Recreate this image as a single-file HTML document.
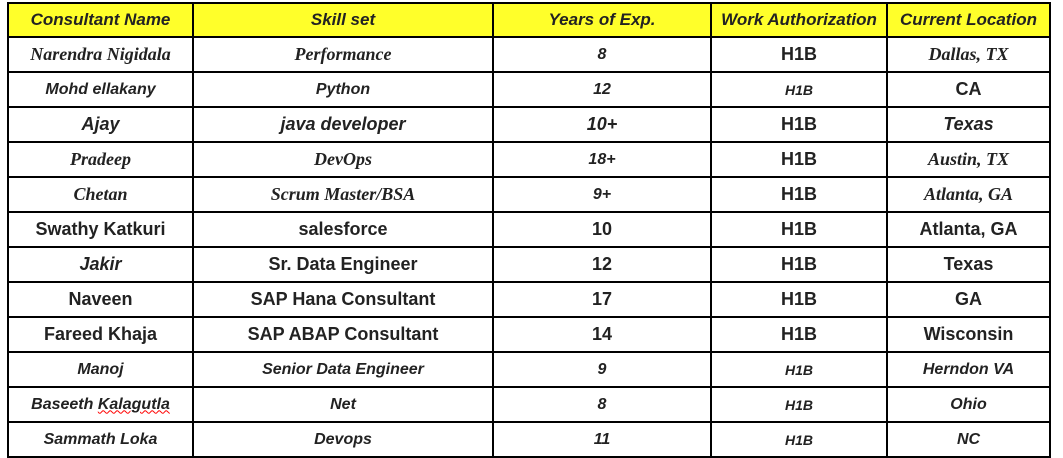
<!DOCTYPE html>
<html><head><meta charset="utf-8"><style>
body{margin:0;width:1063px;height:458px;background:#fff;overflow:hidden}
table{position:absolute;left:7px;top:2px;border-collapse:collapse;table-layout:fixed;color:#222}
td{border:2px solid #000;text-align:center;padding:0;height:33px;white-space:nowrap;overflow:hidden}
tr:first-child td{background:#ffff2a;height:32px}
.h{font:italic bold 17px "Liberation Sans",sans-serif}
.c{font:italic bold 16px "Liberation Sans",sans-serif}
.s{font:italic bold 18px "Liberation Serif",serif}
.a{font:bold 18px "Liberation Sans",sans-serif}
.ai{font:italic bold 18px "Liberation Sans",sans-serif}
.as{font:italic bold 14px "Liberation Sans",sans-serif}
.u{text-decoration:underline wavy red;text-decoration-thickness:1px}
</style></head><body>
<table>
<colgroup><col style="width:185px"><col style="width:300px"><col style="width:218px"><col style="width:176px"><col style="width:163px"></colgroup>
<tr><td class="h">Consultant Name</td><td class="h">Skill set</td><td class="h">Years of Exp.</td><td class="h">Work Authorization</td><td class="h">Current Location</td></tr>
<tr><td class="s">Narendra Nigidala</td><td class="s">Performance</td><td class="c">8</td><td class="a">H1B</td><td class="s">Dallas, TX</td></tr>
<tr><td class="c">Mohd ellakany</td><td class="c">Python</td><td class="c">12</td><td class="as">H1B</td><td class="a">CA</td></tr>
<tr><td class="ai">Ajay</td><td class="ai">java developer</td><td class="ai">10+</td><td class="a">H1B</td><td class="ai">Texas</td></tr>
<tr><td class="s">Pradeep</td><td class="s">DevOps</td><td class="c">18+</td><td class="a">H1B</td><td class="s">Austin, TX</td></tr>
<tr><td class="s">Chetan</td><td class="s">Scrum Master/BSA</td><td class="c">9+</td><td class="a">H1B</td><td class="s">Atlanta, GA</td></tr>
<tr><td class="a">Swathy Katkuri</td><td class="a">salesforce</td><td class="a">10</td><td class="a">H1B</td><td class="a">Atlanta, GA</td></tr>
<tr><td class="ai">Jakir</td><td class="a">Sr. Data Engineer</td><td class="a">12</td><td class="a">H1B</td><td class="a">Texas</td></tr>
<tr><td class="a">Naveen</td><td class="a">SAP Hana Consultant</td><td class="a">17</td><td class="a">H1B</td><td class="a">GA</td></tr>
<tr><td class="a">Fareed Khaja</td><td class="a">SAP ABAP Consultant</td><td class="a">14</td><td class="a">H1B</td><td class="a">Wisconsin</td></tr>
<tr><td class="c">Manoj</td><td class="c">Senior Data Engineer</td><td class="c">9</td><td class="as">H1B</td><td class="c">Herndon VA</td></tr>
<tr><td class="c">Baseeth <span class="u">Kalagutla</span></td><td class="c">Net</td><td class="c">8</td><td class="as">H1B</td><td class="c">Ohio</td></tr>
<tr><td class="c">Sammath Loka</td><td class="c">Devops</td><td class="c">11</td><td class="as">H1B</td><td class="c">NC</td></tr>
</table>
</body></html>
